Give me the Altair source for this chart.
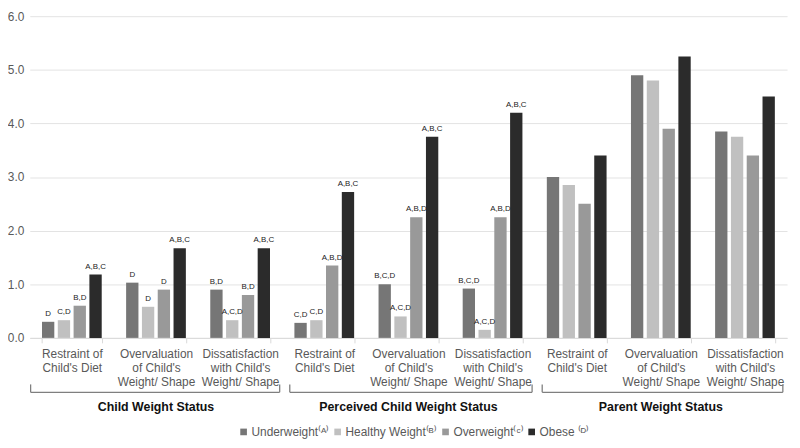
import altair as alt
import pandas as pd

groups = ["Child Weight Status", "Perceived Child Weight Status", "Parent Weight Status"]
measures = ["Restraint of|Child's Diet", "Overvaluation|of Child's|Weight/ Shape", "Dissatisfaction|with Child's|Weight/ Shape"]
series = ["Underweight\u207d\u1d2c\u207e", "Healthy Weight\u207d\u1d2e\u207e", "Overweight\u207d\u1d9c\u207e", "Obese \u207d\u1d30\u207e"]
colors = ["#767676", "#c0c0c0", "#999999", "#2b2b2b"]

underweight = [0.30, 1.03, 0.90, 0.28, 1.00, 0.92, 3.00, 4.90, 3.85]
healthy     = [0.33, 0.58, 0.33, 0.33, 0.40, 0.15, 2.85, 4.80, 3.75]
overweight  = [0.60, 0.90, 0.80, 1.35, 2.25, 2.25, 2.50, 3.90, 3.40]
obese       = [1.18, 1.67, 1.67, 2.72, 3.75, 4.20, 3.40, 5.25, 4.50]

lbl_under   = ["D", "D", "B,D", "C,D", "B,C,D", "B,C,D", "", "", ""]
lbl_healthy = ["C,D", "D", "A,C,D", "C,D", "A,C,D", "A,C,D", "", "", ""]
lbl_over    = ["B,D", "D", "B,D", "A,B,D", "A,B,D", "A,B,D", "", "", ""]
lbl_obese   = ["A,B,C", "A,B,C", "A,B,C", "A,B,C", "A,B,C", "A,B,C", "", "", ""]

bracket_start = [0.01, 3.09, 6.09]
bracket_end = [2.97, 5.97, 8.95]
group_mid = [1.5, 4.5, 7.5]

cats = []
for g in range(3):
    for m in range(3):
        cats.append(f"{g*3+m}~{measures[m]}")

rows = []
for vals, lbls, s in zip([underweight, healthy, overweight, obese],
                         [lbl_under, lbl_healthy, lbl_over, lbl_obese], series):
    for i, c in enumerate(cats):
        rows.append({"cat": c, "series": s, "value": vals[i], "lbl": lbls[i]})
df = pd.DataFrame(rows)

gdf = pd.DataFrame({"group": groups, "s": bracket_start, "e": bracket_end, "mid": group_mid})

font = "Liberation Sans, Arial, sans-serif"

x = alt.X("cat:N", sort=cats, title=None,
          scale=alt.Scale(paddingInner=0.29, paddingOuter=0.145),
          axis=alt.Axis(labelExpr="split(slice(datum.label, 2), '|')", labelAngle=0,
                        labelAlign="center", labelBaseline="top", labelLineHeight=14,
                        labelFontSize=12, labelFont=font, labelColor="#595959",
                        labelPadding=6, tickBand="extent", tickSize=5, tickColor="#d9d9d9",
                        domainColor="#d9d9d9", grid=False))
xo = alt.XOffset("series:N", sort=series, scale=alt.Scale(paddingInner=0.22))
y = alt.Y("value:Q", title=None,
          scale=alt.Scale(domain=[0, 6], nice=False),
          axis=alt.Axis(values=[0, 1, 2, 3, 4, 5, 6], format=".1f", ticks=False, domain=False,
                        labelColor="#595959", labelFontSize=12, labelFont=font,
                        labelPadding=6, gridColor="#e3e3e3"))

bars = alt.Chart(df).mark_bar().encode(
    x=x, xOffset=xo, y=y,
    color=alt.Color("series:N", sort=series,
                    scale=alt.Scale(domain=series, range=colors),
                    legend=alt.Legend(title=None, orient="none", direction="horizontal",
                                      legendX=210, legendY=414, symbolType="square",
                                      symbolSize=45, symbolStrokeWidth=0,
                                      labelFontSize=12, labelFont=font,
                                      labelColor="#595959", columnPadding=2, symbolOffset=0,
                                      labelOffset=2))
)

labels = alt.Chart(df).mark_text(fontSize=8, dy=-4, baseline="bottom", color="#222222",
                                 font="Liberation Sans Narrow, Liberation Sans").encode(
    x=alt.X("cat:N", sort=cats), xOffset=alt.XOffset("series:N", sort=series),
    y="value:Q", text="lbl:N"
)

qscale = alt.Scale(domain=[0, 9], nice=False, zero=False)
hline = alt.Chart(gdf).mark_rule(color="#7f7f7f", strokeWidth=1.3).encode(
    x=alt.X("s:Q", scale=qscale, axis=None), x2="e:Q", y=alt.value(380))
ltick = alt.Chart(gdf).mark_rule(color="#7f7f7f", strokeWidth=1.3).encode(
    x=alt.X("s:Q", scale=qscale, axis=None), y=alt.value(372), y2=alt.value(380))
rtick = alt.Chart(gdf).mark_rule(color="#7f7f7f", strokeWidth=1.3).encode(
    x=alt.X("e:Q", scale=qscale, axis=None), y=alt.value(372), y2=alt.value(380))
titles = alt.Chart(gdf).mark_text(fontSize=12.5, fontWeight="bold", color="#111111",
                                  font=font, baseline="middle").encode(
    x=alt.X("mid:Q", scale=qscale, axis=None),
    y=alt.value(395), text="group:N")

main = alt.layer(bars, labels)
deco = alt.layer(hline, ltick, rtick, titles)

chart = alt.layer(main, deco).resolve_scale(x="independent").properties(
    width=765, height=325,
    autosize=alt.AutoSizeParams(type="none"),
    padding={"left": 22, "top": 6, "right": 5, "bottom": 110}
).configure_view(stroke=None)

chart.save("out.html", embed_options={"renderer": "svg", "actions": False})
